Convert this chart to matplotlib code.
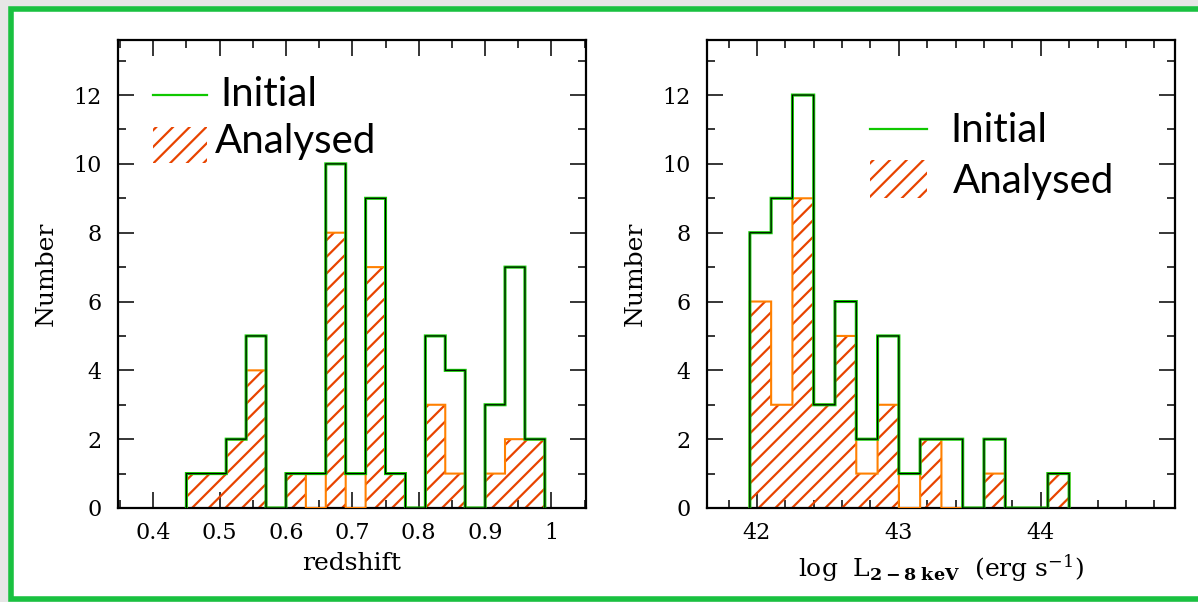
import numpy as np
import matplotlib
matplotlib.use("Agg")
import matplotlib.pyplot as plt
from matplotlib.patches import Rectangle
from matplotlib.lines import Line2D
from matplotlib.ticker import MultipleLocator, FuncFormatter

# ---- redshift histogram (bin width 0.03 starting at z = 0.45) ----
z_start = 0.45
z_width = 0.03
z_initial = [1, 1, 2, 5, 0, 1, 1, 10, 1, 9, 1, 0, 5, 4, 0, 3, 7, 2]
z_analysed = [1, 1, 2, 4, 0, 1, 0, 8, 0, 7, 1, 0, 3, 1, 0, 1, 2, 2]

# ---- hard X-ray luminosity histogram (bin width 0.15 dex starting at 41.95) ----
l_start = 41.95
l_width = 0.15
l_initial = [8, 9, 12, 3, 6, 2, 5, 1, 2, 2, 0, 2, 0, 0, 1]
l_analysed = [6, 3, 9, 3, 5, 1, 3, 0, 2, 0, 0, 1, 0, 0, 1]

legend_labels = ["Initial", "Analysed"]

GREEN = "#10c800"
HATCH = "#e84400"
ORANGE = "#ff8000"
FRAME_GREEN = "#19c140"

plt.rcParams["font.family"] = "DejaVu Serif"
plt.rcParams["mathtext.fontset"] = "dejavuserif"
plt.rcParams["hatch.linewidth"] = 1.6

W, H = 1198, 602
fig = plt.figure(figsize=(W / 100, H / 100), dpi=100)
fig.patch.set_facecolor("#e6e6e6")

# white card with a green border, behind the panels
fig.patches.append(Rectangle((10.5 / W, 3.0 / H), 1.2, 1 - 8.8 / H - 3.0 / H,
                             transform=fig.transFigure, facecolor="white",
                             edgecolor=FRAME_GREEN, linewidth=4.0, zorder=-10))


def histogram(ax, start, width, initial, analysed):
    n = len(initial)
    edges = start + width * np.arange(n + 1)
    lefts = edges[:-1]
    # hatched analysed sample
    ax.bar(lefts, analysed, width=width, align="edge", fill=False,
           hatch="//", edgecolor=HATCH, linewidth=0, zorder=2)
    ax.stairs(analysed, edges, baseline=0, color=ORANGE, linewidth=1.5,
              zorder=3, snap=False)
    # initial sample outline: green line with a dark core
    ax.stairs(initial, edges, baseline=0, color=GREEN, linewidth=2.2,
              zorder=4, snap=False)
    ax.stairs(initial, edges, baseline=0, color="black", linewidth=0.8,
              zorder=5, snap=False)


def style(ax, xlim, xmajor, xminor, xlabel):
    ax.set_xlim(*xlim)
    ax.set_ylim(0, 13.6)
    ax.xaxis.set_major_locator(MultipleLocator(xmajor))
    ax.xaxis.set_minor_locator(MultipleLocator(xminor))
    ax.yaxis.set_major_locator(MultipleLocator(2))
    ax.yaxis.set_minor_locator(MultipleLocator(1))
    ax.xaxis.set_major_formatter(FuncFormatter(lambda v, p: "%g" % round(v, 3)))
    ax.tick_params(which="both", direction="in", top=True, right=True,
                   width=1.1, colors="black", labelsize=16)
    ax.tick_params(which="major", length=11.5)
    ax.tick_params(which="minor", length=5.8)
    ax.tick_params(axis="x", which="major", pad=10)
    ax.tick_params(axis="y", which="major", pad=12)
    for s in ax.spines.values():
        s.set_linewidth(1.6)
    ax.set_xlabel(xlabel, fontsize=18, labelpad=6)
    ax.set_ylabel("Number", fontsize=18, labelpad=11)
    ax.set_facecolor("white")


def legend(ax, x0, x1, y_line, y_patch0, y_patch1, x_txt1, y_txt1, x_txt2, y_txt2):
    ax.add_line(Line2D([x0, x1], [y_line, y_line], transform=ax.transAxes,
                       color=GREEN, linewidth=1.6, zorder=6))
    ax.add_patch(Rectangle((x0, y_patch0), x1 - x0, y_patch1 - y_patch0,
                           transform=ax.transAxes, fill=False, hatch="//",
                           edgecolor=HATCH, linewidth=0, zorder=6))
    ax.text(x_txt1, y_txt1, legend_labels[0], transform=ax.transAxes,
            fontsize=29, family="Lato", va="baseline", ha="left")
    ax.text(x_txt2, y_txt2, legend_labels[1], transform=ax.transAxes,
            fontsize=29, family="Lato", va="baseline", ha="left")


ax1 = fig.add_axes([118 / W, (H - 508) / H, 468 / W, 468 / H])
ax2 = fig.add_axes([707 / W, (H - 508) / H, 468 / W, 468 / H])

histogram(ax1, z_start, z_width, z_initial, z_analysed)
histogram(ax2, l_start, l_width, l_initial, l_analysed)

style(ax1, (0.347, 1.052), 0.1, 0.05, "redshift")
style(ax2, (41.648, 44.946), 1, 0.2,
      r"log  L$_{\mathbf{2-8\ keV}}$  (erg s$^{-1}$)")

legend(ax1, 0.075, 0.190, 0.8825, 0.737, 0.814, 0.218, 0.859, 0.207, 0.7585)
legend(ax2, 0.348, 0.470, 0.810, 0.662, 0.744, 0.519, 0.782, 0.526, 0.673)

fig.savefig("out.png", dpi=100, facecolor=fig.get_facecolor())
